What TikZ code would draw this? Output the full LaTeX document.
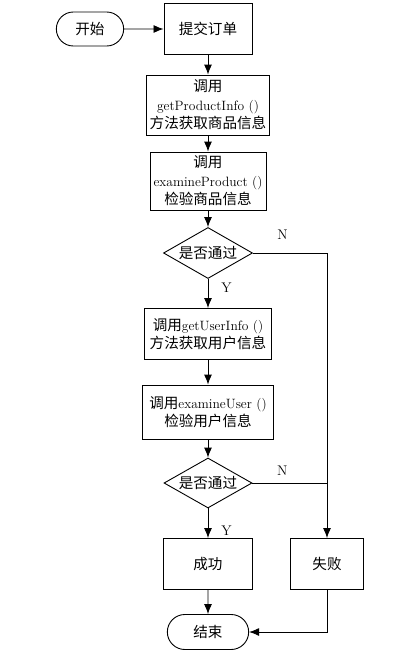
\documentclass[tikz,border=0pt]{standalone}
\usepackage{fontspec}
\newfontfamily\cjk[Scale=1.08]{Noto Sans CJK SC}
\usetikzlibrary{shapes,arrows.meta}
\tikzstyle{block} = [rectangle, draw, line width=0.9pt, align=center,
	inner sep=2pt, font=\fontsize{13.5}{18.5}\selectfont]
\tikzstyle{terminal} = [rounded rectangle, draw, line width=0.9pt,
	minimum width=88pt, minimum height=35pt, font=\fontsize{13.5}{18.5}\selectfont]
\tikzstyle{decision} = [diamond, draw, line width=0.9pt, aspect=1.75, inner sep=0pt,
	minimum width=89pt, minimum height=51pt, font=\fontsize{13.5}{18.5}\selectfont]
\tikzstyle{line} = [draw, line width=0.9pt, -{Latex[length=10pt,width=8pt]}]
\tikzstyle{answer} = [font=\fontsize{14}{16}\selectfont, inner sep=1pt]

\begin{document}
\begin{tikzpicture}[node distance = 76pt, auto]
	\useasboundingbox (-208pt,29pt) rectangle (198pt,-627pt);
	% Place nodes
	\node [block, minimum width=88pt, minimum height=51pt] (submit) {\cjk 提交订单};
	\node [terminal, left of=submit, node distance=118pt, minimum width=74pt, minimum height=34pt] (start) {\cjk 开始};
	\node [block, below of=submit, minimum width=123pt, minimum height=60pt] (product) {{\cjk 调用}\\getProductInfo ()\\{\cjk 方法获取商品信息}};
	\node [block, below of=product, minimum width=116pt, minimum height=58pt] (checkproduct) {{\cjk 调用}\\examineProduct ()\\{\cjk 检验商品信息}};
	\node [decision, below of=checkproduct, node distance=72pt] (pass1) {\cjk 是否通过};
	\node [block, below of=pass1, node distance=81pt, minimum width=127pt, minimum height=51pt] (user) {{\cjk 调用}getUserInfo ()\\{\cjk 方法获取用户信息}};
	\node [block, below of=user, node distance=78pt, minimum width=131pt, minimum height=54pt] (checkuser) {{\cjk 调用}examineUser ()\\{\cjk 检验用户信息}};
	\node [decision, below of=checkuser, node distance=71pt, minimum width=88pt, minimum height=50pt] (pass2) {\cjk 是否通过};
	\node [block, below of=pass2, node distance=81pt, minimum width=89pt, minimum height=51pt] (success) {\cjk 成功};
	\node [block, right of=success, node distance=119pt, minimum width=73pt, minimum height=51pt] (fail) {\cjk 失败};
	\node [terminal, below of=success, node distance=68pt] (finish) {\cjk 结束};
	% Draw edges
	\path [line] (start) -- (submit);
	\path [line] (submit) -- (product);
	\path [line] (product) -- (checkproduct);
	\path [line] (checkproduct) -- (pass1);
	\path [line] (pass1) -- node [answer, pos=0.3, xshift=12pt] {Y} (user);
	\path [line] (user) -- (checkuser);
	\path [line] (checkuser) -- (pass2);
	\path [line] (pass2) -- node [answer, pos=0.75, xshift=12pt] {Y} (success);
	\path [line] (success) -- (finish);
	\path [line] (pass1.east) -- node [answer, pos=0.4, yshift=12pt] {N} (fail.north |- pass1.east) -- (fail.north);
	\draw [line width=0.9pt] (pass2.east) -- node [answer, pos=0.4, yshift=6pt] {N} (fail.north |- pass2.east);
	\path [line] (fail.south) |- (finish.east);
\end{tikzpicture}
\end{document}
